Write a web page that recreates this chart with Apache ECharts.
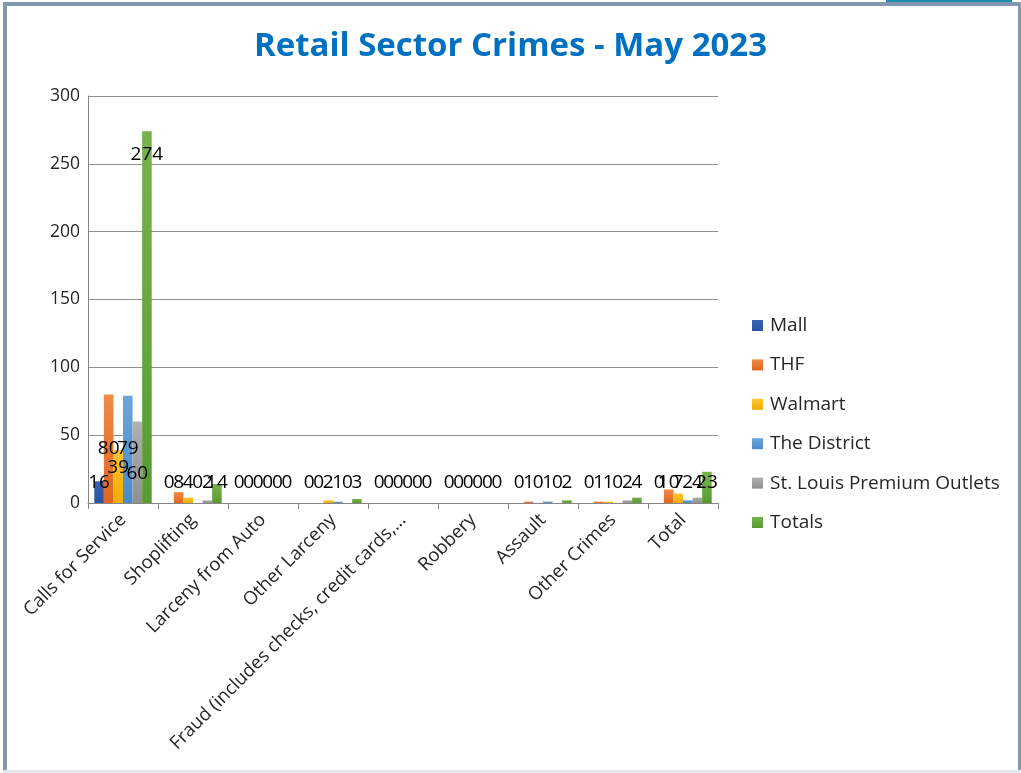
<!DOCTYPE html>
<html>
<head>
<meta charset="utf-8">
<script src="https://cdn.jsdelivr.net/npm/echarts@6/dist/echarts.min.js"></script>
<style>
html,body{margin:0;padding:0;background:#fff;}
#wrap{position:relative;width:1021px;height:773px;overflow:hidden;background:#fff;}
#chart{position:absolute;left:0;top:0;width:1021px;height:773px;}
.b{position:absolute;background:#8497B0;}
</style>
</head>
<body>
<div id="wrap">
<div id="chart"></div>
<div class="b" style="left:886px;top:0;width:126px;height:3px;background:#1A8FA8;"></div>
<div class="b" style="left:3px;top:2px;width:1018px;height:4px;"></div>
<div class="b" style="left:3px;top:2px;width:4px;height:771px;"></div>
<div class="b" style="left:1018px;top:2px;width:3px;height:771px;"></div>
<div class="b" style="left:3px;top:770px;width:1018px;height:3px;background:#E4E8EE;"></div>
</div>
<script>
const categories = ["Calls for Service","Shoplifting","Larceny from Auto","Other Larceny","Fraud (includes checks, credit cards,...","Robbery","Assault","Other Crimes","Total"];
const seriesNames = ["Mall","THF","Walmart","The District","St. Louis Premium Outlets","Totals"];
const mall     = [16, 0, 0, 0, 0, 0, 0, 0, 0];
const thf      = [80, 8, 0, 0, 0, 0, 1, 1, 10];
const walmart  = [39, 4, 0, 2, 0, 0, 0, 1, 7];
const district = [79, 0, 0, 1, 0, 0, 1, 0, 2];
const outlets  = [60, 2, 0, 0, 0, 0, 0, 2, 4];
const totals   = [274, 14, 0, 3, 0, 0, 2, 4, 23];
const yTicks = [0, 50, 100, 150, 200, 250, 300];

const seriesValues = [mall, thf, walmart, district, outlets, totals];
const colors = [
  ['#3763B4','#2A53A2'],
  ['#F08A45','#E0661E'],
  ['#FFC533','#EEAA00'],
  ['#6AA6DC','#4A8AC8'],
  ['#B0B0B0','#909090'],
  ['#78B24E','#5A9A32']
];

// label placement rule (mimics the reference's label layout)
function labelFor(v){
  if (v > 100) return {position: 'insideTop', distance: 14};
  if (v >= 70) return {position: 'insideBottom', distance: 45};
  if (v >= 50) return {position: 'insideBottom', distance: 20};
  if (v >= 30) return {position: 'insideBottom', distance: 26};
  return {position: 'insideBottom', distance: 11};
}
function mkData(vals){
  return vals.map(v => ({value: v, label: labelFor(v)}));
}

const chart = echarts.init(document.getElementById('chart'));
chart.setOption({
  animation: false,
  backgroundColor: 'transparent',
  title: {
    text: 'Retail Sector Crimes - May 2023',
    left: 'center',
    top: 25,
    textStyle: {color: '#0070C0', fontSize: 33, fontWeight: 'bold', fontFamily: 'Open Sans'}
  },
  legend: {
    orient: 'vertical',
    left: 752,
    top: 316,
    padding: 0,
    itemWidth: 11,
    itemHeight: 11,
    itemGap: 20.4,
    icon: 'rect',
    textStyle: {fontSize: 19, color: '#262626', fontFamily: 'Open Sans', padding: [0,0,0,2]},
    data: seriesNames
  },
  grid: {left: 88, right: 303, top: 96, bottom: 270, containLabel: false},
  xAxis: {
    type: 'category',
    data: categories,
    axisLine: {lineStyle: {color: '#868686'}},
    axisTick: {show: true, length: 6, lineStyle: {color: '#868686'}},
    axisLabel: {rotate: 45, fontSize: 18.5, color: '#262626', fontFamily: 'Open Sans', margin: 14, interval: 0}
  },
  yAxis: {
    type: 'value',
    min: 0, max: yTicks[yTicks.length-1], interval: 50,
    axisLine: {show: true, lineStyle: {color: '#868686'}},
    axisTick: {show: false},
    splitLine: {lineStyle: {color: '#8E8E8E'}},
    axisLabel: {fontSize: 17.5, color: '#262626', fontFamily: 'Open Sans', margin: 8}
  },
  series: seriesNames.map((n, i) => ({
    name: n,
    type: 'bar',
    data: mkData(seriesValues[i]),
    barGap: '0%',
    barCategoryGap: '18%',
    itemStyle: {color: new echarts.graphic.LinearGradient(0,0,0,1,[{offset:0,color:colors[i][0]},{offset:1,color:colors[i][1]}])},
    label: {show: true, color: '#000', fontSize: 19, fontFamily: 'Open Sans'}
  }))
});
</script>
</body>
</html>
